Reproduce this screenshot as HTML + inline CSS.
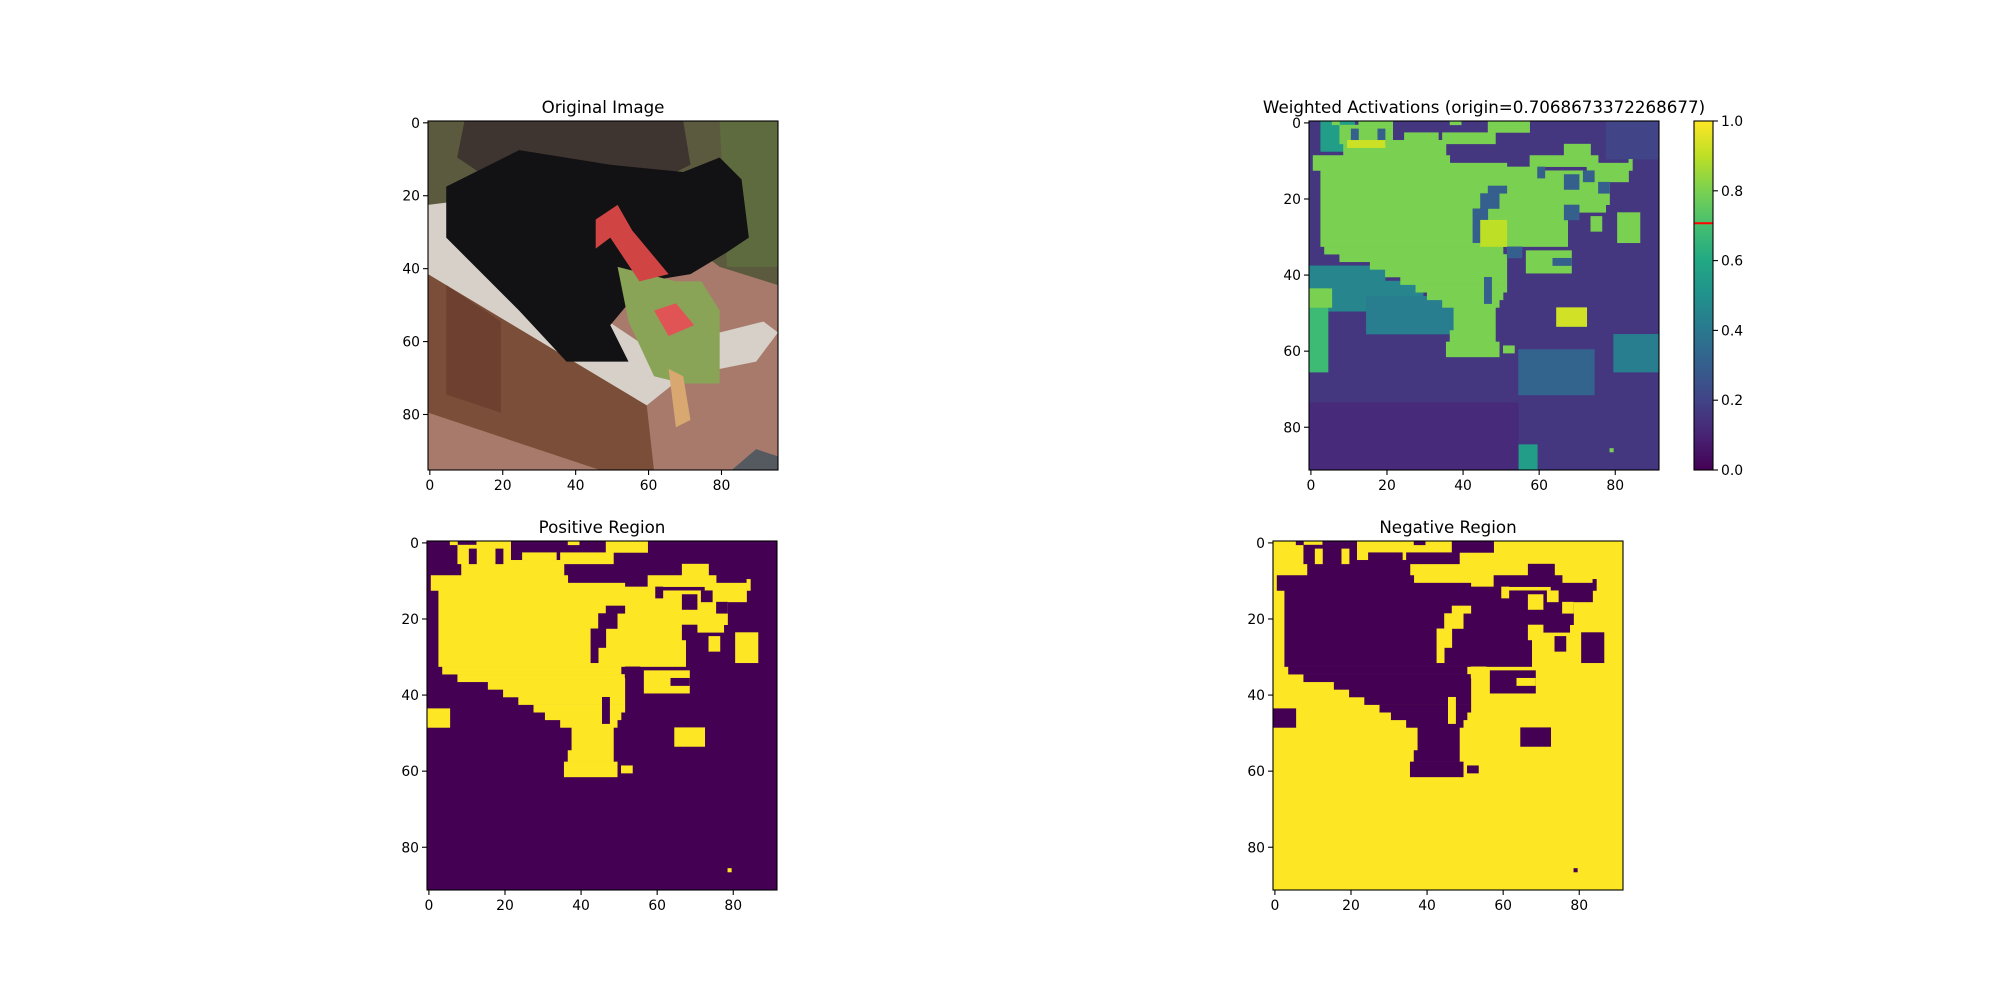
<!DOCTYPE html>
<html><head><meta charset="utf-8"><style>
body{margin:0;background:#fff}
svg{display:block;font-family:"DejaVu Sans","Liberation Sans",sans-serif}
</style></head><body>
<svg id="fig" width="2000" height="1000" viewBox="0 0 2000 1000" xmlns="http://www.w3.org/2000/svg">
<rect width="2000" height="1000" fill="#fff"/>
</svg>
<script>
// ---- data ----
const tickValues = [0, 20, 40, 60, 80];
const cbTicks = [0.0, 0.2, 0.4, 0.6, 0.8, 1.0];
const cbTickLabels = ["0.0", "0.2", "0.4", "0.6", "0.8", "1.0"];
const originValue = 0.7068673372268677;
const maskSize = 92;
const photoSize = 96;
// positive mask rectangles [row0,row1,col0,col1] (yellow)
const posRects = [
 [0,1,6,8],[0,1,37,40],[0,3,13,22],[0,3,47,58],[1,6,8,22],[3,5,25,34],[3,6,35,49],
 [5,9,9,36],[9,13,1,37],[11,13,37,52],[12,13,52,60],[9,12,58,76],[6,9,67,74],
 [11,16,73,84],[10,13,84,85],[13,33,3,68],[13,22,68,79],[22,24,71,78],
 [33,35,4,51],[35,37,8,52],[37,39,16,52],[39,41,20,52],[41,43,24,52],[43,45,28,52],
 [45,47,31,51],[47,49,35,50],[49,55,38,49],[55,58,37,49],[58,62,36,50],[59,61,51,54],
 [34,40,57,69],[44,49,0,6],[49,54,65,73],[25,29,74,77],[24,32,81,87],[86,87,79,80]
];
// holes in the positive mask (purple)
const holeRects = [
 [2,6,11,13],[2,6,18,20],[12,15,60,62],[14,18,67,71],[13,16,72,75],[16,19,76,79],
 [22,26,67,71],[17,19,47,52],[19,23,45,50],[23,28,43,47],[28,32,43,45],
 [36,38,64,69],[41,48,46,48],[33,36,52,56]
];
// extra activation regions [row0,row1,col0,col1,value]
const actRegions = [
 [38,44,0,20,0.45],[42,50,5,30,0.45],[46,56,15,38,0.42],[44,66,0,5,0.68],
 [0,8,3,12,0.55],[56,66,80,92,0.42],[60,72,55,75,0.32],[85,92,55,60,0.55],
 [74,92,0,55,0.12],[0,10,78,92,0.2]
];
const actBright = [[49,54,65,73,0.93],[26,33,45,52,0.9],[5,7,10,20,0.92]];
const maskValue = 0.8, bgValue = 0.16;

// ---- helpers ----
const svg = document.getElementById('fig');
const NS = 'http://www.w3.org/2000/svg';
function mk(tag, attrs, parent){const e=document.createElementNS(NS,tag);for(const k in attrs)e.setAttribute(k,attrs[k]);(parent||svg).appendChild(e);return e;}
const vir=['#440154','#482475','#414487','#355f8d','#2a788e','#21918c','#22a884','#44bf70','#7ad151','#bddf26','#fde725'];
function hx(c){return [1,3,5].map(i=>parseInt(c.substr(i,2),16));}
function viridis(v){v=Math.max(0,Math.min(1,v));const p=v*10,i=Math.min(9,Math.floor(p)),t=p-i;const a=hx(vir[i]),b=hx(vir[i+1]);return 'rgb('+a.map((x,j)=>Math.round(x+(b[j]-x)*t)).join(',')+')';}

function axes(x0,y0,w,h,n,title,name){
  const g=mk('g',{});
  
  
  const s=w/n;
  const clip=mk('clipPath',{id:'c'+name},g);mk('rect',{x:x0,y:y0,width:w,height:h},clip);
  const inner=mk('g',{'clip-path':'url(#c'+name+')'},g);
  const sx=c=>x0+(c+0.5)*s, sy=r=>y0+(r+0.5)*s;
  return {g,inner,s,x0,y0,w,h,n,sx,sy,finish(){
    mk('rect',{x:x0,y:y0,width:w,height:h,fill:'none',stroke:'#000','stroke-width':1.1},g);
    tickValues.forEach(v=>{
      const X=sx(v),Y=sy(v);
      const tx=mk('line',{x1:X,y1:y0+h,x2:X,y2:y0+h+5,stroke:'#000','stroke-width':1.1},g);
      
      const lx=mk('text',{x:X,y:y0+h+20,'font-size':13.9,'text-anchor':'middle',fill:'#000'},g);lx.textContent=v;
      
      const ty=mk('line',{x1:x0-5,y1:Y,x2:x0,y2:Y,stroke:'#000','stroke-width':1.1},g);
      
      const ly=mk('text',{x:x0-8,y:Y+5,'font-size':13.9,'text-anchor':'end',fill:'#000'},g);ly.textContent=v;
      
    });
    const t=mk('text',{x:x0+w/2,y:y0-8,'font-size':16.7,'text-anchor':'middle',fill:'#000'},g);t.textContent=title;
    
  }};
}
function cell(ax,r0,r1,c0,c1,fill){
  const e=mk('rect',{x:ax.x0+c0*ax.s,y:ax.y0+r0*ax.s,width:(c1-c0)*ax.s+0.3,height:(r1-r0)*ax.s+0.3,fill:fill},ax.inner);
  
  return e;
}

// ---- original image (approximate photo) ----
const A=axes(428,121,350,349,photoSize,'Original Image','original-image-axes');
function poly(ax,pts,fill){const p=mk('polygon',{points:pts.map(q=>(ax.x0+q[0]*ax.s)+','+(ax.y0+q[1]*ax.s)).join(' '),fill:fill},ax.inner);return p;}
cell(A,0,96,0,96,'#a87a6c');
poly(A,[[0,0],[96,0],[96,45],[80,40],[60,25],[0,25]],'#5c5a3e');
poly(A,[[80,0],[96,0],[96,40],[82,40]],'#5e6b3e');
poly(A,[[10,0],[70,0],[72,12],[60,18],[20,18],[8,10]],'#3e3430');
poly(A,[[0,23],[8,22],[20,40],[45,52],[60,62],[80,58],[92,55],[96,58],[90,66],[70,70],[60,78],[0,44]],'#d6d0c8');
poly(A,[[0,42],[60,78],[62,96],[48,96],[0,80]],'#7a4e38');
poly(A,[[5,45],[20,55],[20,80],[5,75]],'#6e4030');
poly(A,[[5,18],[25,8],[50,12],[70,14],[80,10],[86,16],[88,32],[82,36],[72,42],[60,44],[50,56],[55,66],[38,66],[25,52],[15,42],[5,32]],'#121114');
poly(A,[[52,40],[68,44],[75,44],[80,52],[80,72],[70,72],[62,70],[55,55]],'#8aa457');
poly(A,[[46,27],[52,23],[56,30],[66,42],[58,44],[50,32],[46,35]],'#d04444');
poly(A,[[62,52],[68,50],[73,56],[66,59]],'#e05456');
poly(A,[[66,68],[70,70],[72,82],[68,84]],'#d8a870');
poly(A,[[83,96],[90,90],[96,92],[96,96]],'#555a60');
A.finish();

// ---- weighted activations ----
const W=axes(1309,121,350,349,maskSize,'Weighted Activations (origin='+originValue+')','weighted-activations-axes');
cell(W,0,92,0,92,viridis(bgValue));
actRegions.forEach(r=>cell(W,r[0],r[1],r[2],r[3],viridis(r[4])));
posRects.forEach(r=>cell(W,r[0],r[1],r[2],r[3],viridis(maskValue)));
holeRects.forEach(r=>cell(W,r[0],r[1],r[2],r[3],viridis(0.3)));
actBright.forEach(r=>cell(W,r[0],r[1],r[2],r[3],viridis(r[4])));
W.finish();

// colorbar
(function(){
  const x0=1694,y0=121,w=19,h=349;
  const g=mk('g',{});
  const defs=mk('defs',{},g);const lg=mk('linearGradient',{id:'vg',x1:0,y1:1,x2:0,y2:0},defs);
  vir.forEach((c,i)=>mk('stop',{offset:i/10,'stop-color':c},lg));
  mk('rect',{x:x0,y:y0,width:w,height:h,fill:'url(#vg)'},g);
  const yv=v=>y0+h-v*h;
  const ol=mk('line',{x1:x0,x2:x0+w,y1:yv(originValue),y2:yv(originValue),stroke:'#ff0000','stroke-width':2},g);
  
  mk('rect',{x:x0,y:y0,width:w,height:h,fill:'none',stroke:'#000','stroke-width':1.1},g);
  cbTicks.forEach((v,i)=>{
    mk('line',{x1:x0+w,x2:x0+w+5,y1:yv(v),y2:yv(v),stroke:'#000','stroke-width':1.1},g);
    const t=mk('text',{x:x0+w+8,y:yv(v)+5,'font-size':13.9,fill:'#000'},g);t.textContent=cbTickLabels[i];
    
  });
})();

// ---- positive / negative ----
const yel=viridis(1), pur=viridis(0);
const P=axes(427,541,350,349,maskSize,'Positive Region','positive-region-axes');
cell(P,0,92,0,92,pur);
posRects.forEach(r=>cell(P,r[0],r[1],r[2],r[3],yel));
holeRects.forEach(r=>cell(P,r[0],r[1],r[2],r[3],pur));
P.finish();
const N=axes(1273,541,350,349,maskSize,'Negative Region','negative-region-axes');
cell(N,0,92,0,92,yel);
posRects.forEach(r=>cell(N,r[0],r[1],r[2],r[3],pur));
holeRects.forEach(r=>cell(N,r[0],r[1],r[2],r[3],yel));
N.finish();
</script>
</body></html>
